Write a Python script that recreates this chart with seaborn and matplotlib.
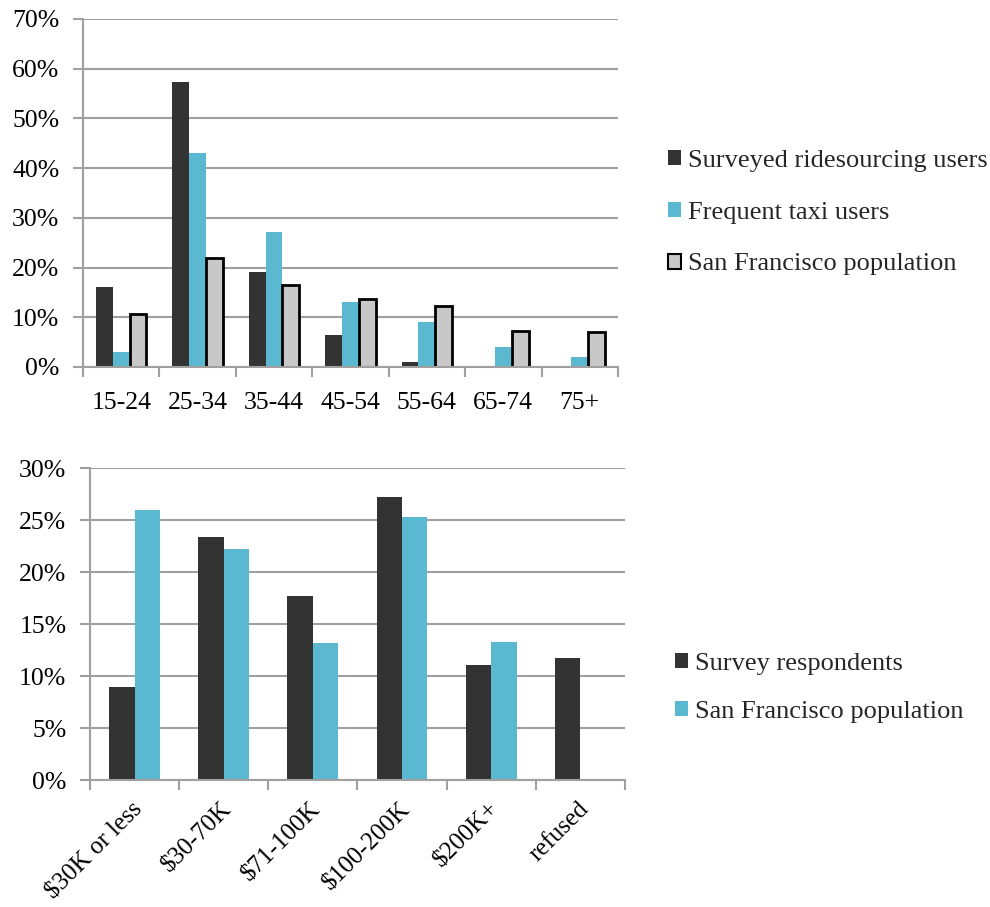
import matplotlib
matplotlib.use("Agg")
import matplotlib.pyplot as plt
import matplotlib.transforms as mtransforms
import seaborn as sns
import pandas as pd
import numpy as np
from matplotlib.patches import Patch
from matplotlib.ticker import PercentFormatter, FixedLocator

# Age distribution
age_groups = ["15-24", "25-34", "35-44", "45-54", "55-64", "65-74", "75+"]
ridesourcing_users = [16.1, 57.4, 19.1, 6.4, 0.9, 0.0, 0.0]
taxi_users = [3.1, 43.0, 27.1, 13.0, 9.0, 4.0, 2.0]
sf_population_age = [10.6, 22.0, 16.5, 13.7, 12.3, 7.2, 7.0]
age_series = ["Surveyed ridesourcing users", "Frequent taxi users", "San Francisco population"]

# Household income distribution
income_groups = ["$30K or less", "$30-70K", "$71-100K", "$100-200K", "$200K+", "refused"]
survey_respondents = [8.9, 23.4, 17.7, 27.2, 11.1, 11.7]
sf_population_income = [26.0, 22.2, 13.2, 25.3, 13.3, np.nan]
income_series = ["Survey respondents", "San Francisco population"]

DARK = "#333333"
BLUE = "#5ab9d0"
LIGHT = "#c8c8c8"
GRID = "#a0a0a0"
TICK_FS = 18.5
LEGEND_FS = 19

age_df = pd.DataFrame({
    "group": age_groups * 3,
    "value": ridesourcing_users + taxi_users + sf_population_age,
    "series": np.repeat(age_series, len(age_groups)),
})
income_df = pd.DataFrame({
    "group": income_groups * 2,
    "value": survey_respondents + sf_population_income,
    "series": np.repeat(income_series, len(income_groups)),
})

sns.set_theme(style="white")
plt.rcParams["font.family"] = ["Liberation Serif", "DejaVu Serif"]
plt.rcParams["font.size"] = TICK_FS

fig = plt.figure(figsize=(9.9, 9.07), dpi=100)
ax1 = fig.add_axes([0.0838, 0.5954, 0.5404, 0.3837])
ax2 = fig.add_axes([0.0909, 0.140, 0.5404, 0.344])


def style_axes(ax, n, ymax, step):
    ax.set_ylim(0, ymax)
    ax.set_xlim(-0.5, n - 0.5)
    ax.yaxis.set_major_locator(FixedLocator(np.arange(0, ymax + 0.01, step)))
    ax.yaxis.set_major_formatter(PercentFormatter(decimals=0))
    ax.grid(axis="y", color=GRID, linewidth=1.5)
    ax.set_axisbelow(True)
    for side in ("top", "right"):
        ax.spines[side].set_visible(False)
    for side in ("left", "bottom"):
        ax.spines[side].set_color(GRID)
        ax.spines[side].set_linewidth(1.5)
    ax.xaxis.set_minor_locator(FixedLocator(np.arange(-0.5, n, 1.0)))
    ax.tick_params(axis="x", which="major", length=0, pad=18, labelsize=TICK_FS, colors="black")
    ax.tick_params(axis="x", which="minor", length=7, width=1.5, color=GRID, direction="out", bottom=True)
    ax.tick_params(axis="y", which="major", length=7, width=1.5, color=GRID, direction="out",
                   left=True, labelsize=TICK_FS, labelcolor="black", pad=10)
    ax.set_xlabel("")
    ax.set_ylabel("")


# Top: age
sns.barplot(data=age_df, x="group", y="value", hue="series", order=age_groups,
            hue_order=age_series, palette=[DARK, BLUE, LIGHT], width=0.66,
            saturation=1, ax=ax1, legend=False)
for cont, name in zip(ax1.containers, age_series):
    for bar in cont:
        if name == "San Francisco population":
            bar.set_edgecolor("black")
            bar.set_linewidth(2)
        else:
            bar.set_linewidth(0)
style_axes(ax1, len(age_groups), 70, 10)

top_handles = [
    Patch(facecolor=DARK, edgecolor="none"),
    Patch(facecolor=BLUE, edgecolor="none"),
    Patch(facecolor=LIGHT, edgecolor="black", linewidth=1.5),
]
fig.legend(top_handles, age_series, loc="upper left", bbox_to_anchor=(0.664, 0.8465),
           frameon=False, fontsize=LEGEND_FS, handlelength=0.5, handleheight=0.5,
           handletextpad=0.27, labelspacing=1.13, borderaxespad=0)

# Bottom: income
sns.barplot(data=income_df, x="group", y="value", hue="series", order=income_groups,
            hue_order=income_series, palette=[DARK, BLUE], width=0.57,
            saturation=1, ax=ax2, legend=False)
for cont in ax2.containers:
    for bar in cont:
        bar.set_linewidth(0)
style_axes(ax2, len(income_groups), 30, 5)
ax2.tick_params(axis="x", which="major", pad=13, labelsize=18)
shift = mtransforms.ScaledTranslation(-3 / 100, 0, fig.dpi_scale_trans)
for lab in ax2.get_xticklabels():
    lab.set_rotation(45)
    lab.set_ha("right")
    lab.set_rotation_mode("anchor")
    lab.set_transform(lab.get_transform() + shift)

bottom_handles = [
    Patch(facecolor=DARK, edgecolor="none"),
    Patch(facecolor=BLUE, edgecolor="none"),
]
fig.legend(bottom_handles, income_series, loc="upper left", bbox_to_anchor=(0.671, 0.2915),
           frameon=False, fontsize=LEGEND_FS, handlelength=0.5, handleheight=0.5,
           handletextpad=0.27, labelspacing=0.97, borderaxespad=0)

fig.savefig("out.png", dpi=100, facecolor="white")
